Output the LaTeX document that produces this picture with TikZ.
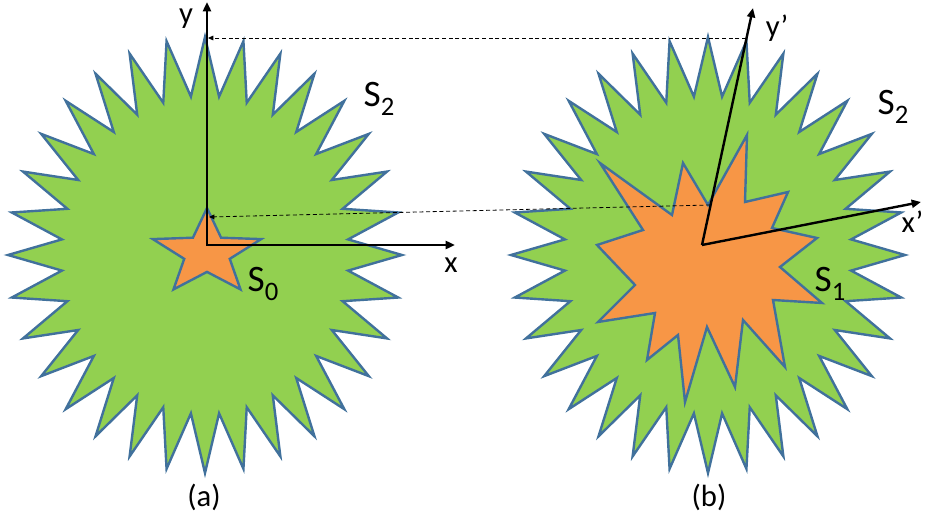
\documentclass[tikz,border=0pt]{standalone}
\usepackage{fontspec}
\setmainfont{Carlito}
\usetikzlibrary{arrows.meta}
\definecolor{leafgreen}{HTML}{92D050}
\definecolor{starorange}{HTML}{F79646}
\definecolor{rimblue}{HTML}{41719C}
\newcommand{\subidx}[1]{\raisebox{-7pt}{\fontsize{20}{20}\selectfont #1}}

\begin{document}
\begin{tikzpicture}[x=0.75pt,y=-0.75pt,
  rim/.style={draw=rimblue,line width=1.8pt},
  axis/.style={line width=1.8pt,{Triangle[length=7pt,width=6pt]}-{Triangle[length=7pt,width=6pt]}},
  axisb/.style={line width=1.8pt,-{Triangle[length=7pt,width=6pt]}},
  proj/.style={densely dashed,line width=0.6pt,-{Triangle[length=4pt,width=3.5pt]}},
  biglabel/.style={font=\fontsize{28}{28}\selectfont},
  axlabel/.style={font=\fontsize{23}{23}\selectfont}]
  \useasboundingbox (0,0) rectangle (925,521);
  % the two S2 regions
  \foreach \cx in {205,708}
    \filldraw[rim,fill=leafgreen] (\cx,37)
      \foreach \k [evaluate=\k as \r using {ifthenelse(isodd(\k),0.73,1)}] in {1,...,63}
        { -- ({\cx+197*\r*sin(\k*5.625)},{255-218*\r*cos(\k*5.625)}) } -- cycle;
  % S0
  \filldraw[rim,fill=starorange] (207,208)
    \foreach \k [evaluate=\k as \r using {ifthenelse(isodd(\k),0.42,1)}] in {1,...,9}
      { -- ({207+57*\r*sin(\k*36)},{253-45*\r*cos(\k*36)}) } -- cycle;
  % S1
  \filldraw[rim,fill=starorange] (747,135) -- (745,202) -- (788,192) -- (772,228)
    -- (817,238) -- (780,267) -- (822,303) -- (773,300) -- (785,367) -- (743,320)
    -- (735,387) -- (707,327) -- (685,402) -- (678,335) -- (647,360) -- (655,313)
    -- (598,322) -- (635,285) -- (597,245) -- (643,230) -- (600,163) -- (672,215)
    -- (683,163) -- (708,205) -- cycle;

  \coordinate (oa) at (207,245);
  \coordinate (xa) at (455,245);
  \coordinate (ya) at (207,2);
  \coordinate (ob) at (702,245);
  \coordinate (xb) at (921,202);
  \coordinate (yb) at (753,8);
  \draw[axis] (ya) -- (oa) -- (xa);
  \draw[axisb] (ob) -- (xb);
  \draw[axisb] (ob) -- (yb);

  \coordinate (topb) at (746,38);
  \coordinate (topa) at (208,38);
  \coordinate (tipb) at (710,205);
  \coordinate (tipa) at (209,217);
  \draw[proj] (topb) -- (topa);
  \draw[proj] (tipb) -- (tipa);

  \node[axlabel] (ylab) at (186,19) {y};
  \node[axlabel] (xlab) at (451,265) {x};
  \node[axlabel] (yplab) at (777,28) {y’};
  \node[axlabel,anchor=east,inner xsep=1pt] (xplab) at (925,222) {x’};
  \node[biglabel] (s2a) at (379,99) {S\subidx{2}};
  \node[biglabel] (s2b) at (893,107) {S\subidx{2}};
  \node[biglabel] (s0) at (263,284) {S\subidx{0}};
  \node[biglabel] (s1) at (830,284) {S\subidx{1}};
  \node[axlabel] (capa) at (204,497) {(a)};
  \node[axlabel] (capb) at (709,497) {(b)};
\end{tikzpicture}
\end{document}
